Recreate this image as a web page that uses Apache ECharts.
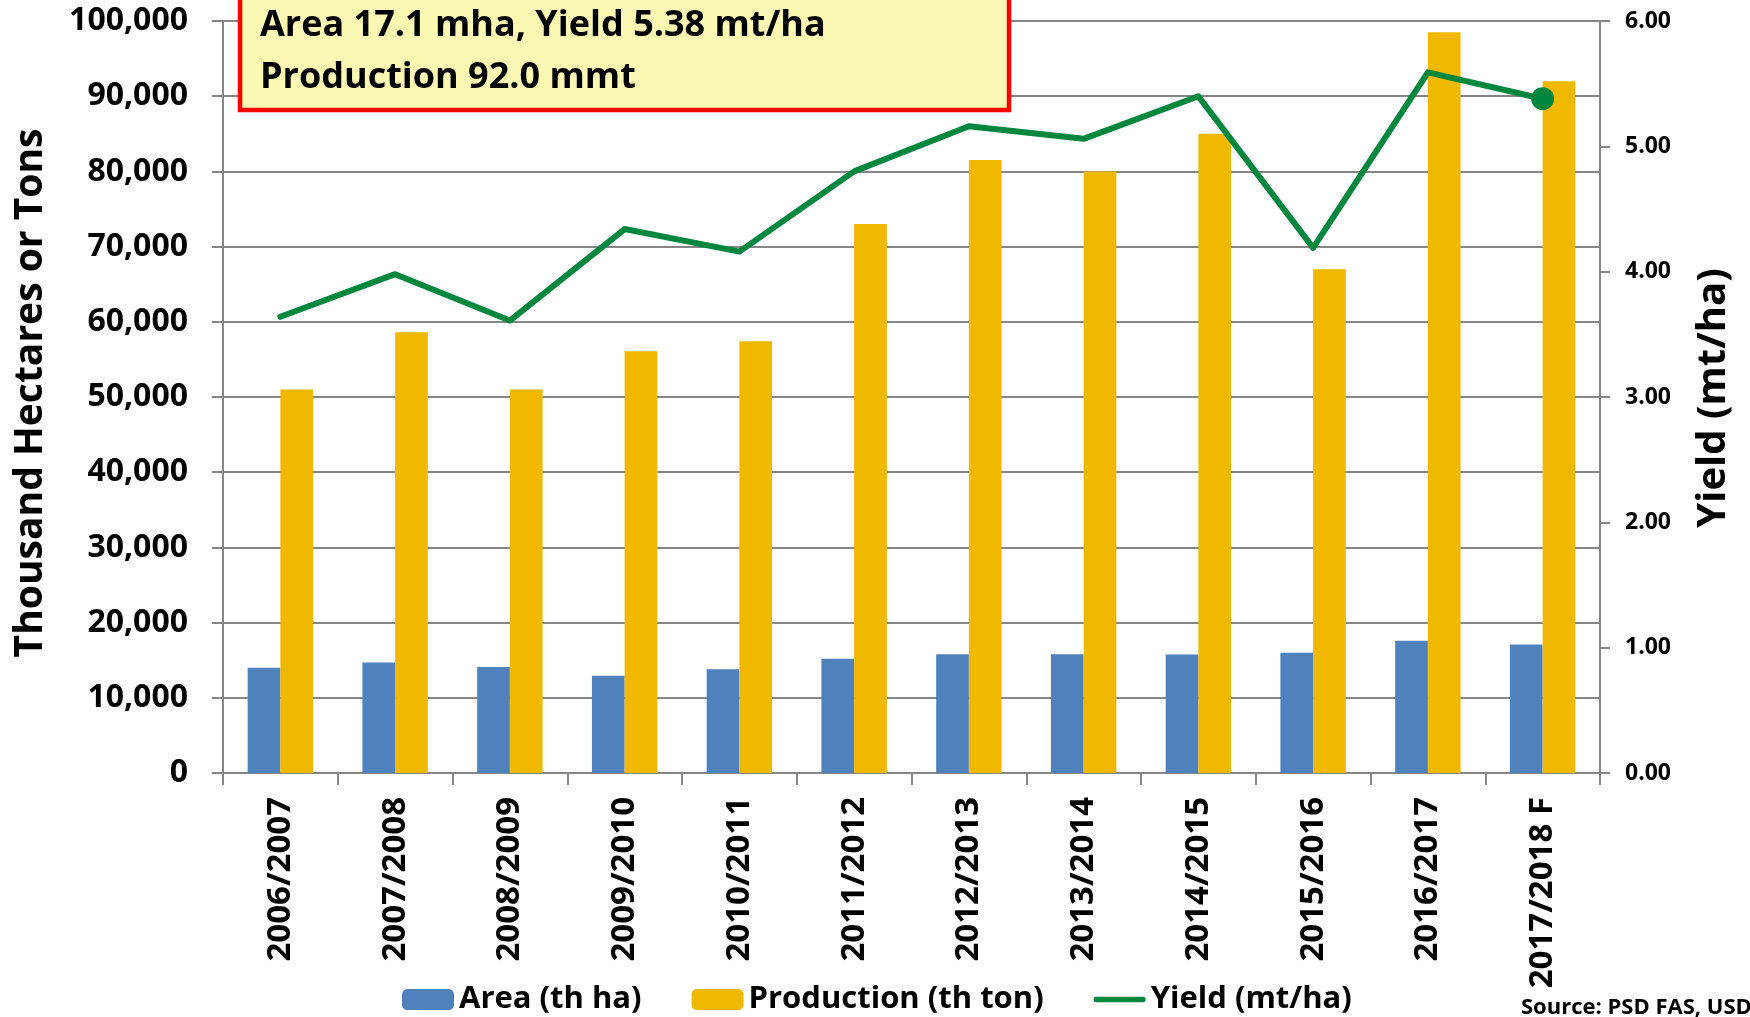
<!DOCTYPE html>
<html>
<head>
<meta charset="utf-8">
<title>Area, Production and Yield</title>
<script src="https://cdn.jsdelivr.net/npm/echarts@6/dist/echarts.min.js"></script>
<style>
  html, body { margin: 0; padding: 0; background: #ffffff; }
  #chart { width: 1750px; height: 1017px; }
</style>
</head>
<body>
<div id="chart"></div>
<script>
// Marketing years
const categories = ['2006/2007', '2007/2008', '2008/2009', '2009/2010', '2010/2011', '2011/2012',
  '2012/2013', '2013/2014', '2014/2015', '2015/2016', '2016/2017', '2017/2018 F'];
// Harvested area, thousand hectares
const areaValues = [14000, 14700, 14100, 12930, 13800, 15200, 15800, 15800, 15750, 16000, 17600, 17100];
// Production, thousand tons
const productionValues = [51000, 58600, 51000, 56100, 57400, 73000, 81500, 80000, 85000, 67000, 98500, 92000];
// Yield, metric tons per hectare
const yieldValues = [3.64, 3.98, 3.61, 4.34, 4.16, 4.80, 5.16, 5.06, 5.40, 4.19, 5.59, 5.38];

const FONT = "'Open Sans', 'DejaVu Sans', sans-serif";
const GRID_GRAY = '#868686';
const YIELD_GREEN = '#00873E';

function thousands(v) {
  return String(v).replace(/\B(?=(\d{3})+(?!\d))/g, ',');
}

// Only the forecast year carries a dot on the yield line
const yieldData = yieldValues.map(function (v, i) {
  if (i === yieldValues.length - 1) {
    return { value: v, symbol: 'circle', symbolSize: 23 };
  }
  return { value: v, symbol: 'none' };
});

const chart = echarts.init(document.getElementById('chart'), null, { renderer: 'canvas' });

chart.setOption({
  animation: false,
  backgroundColor: '#ffffff',
  textStyle: { fontFamily: FONT },
  grid: { left: 223, right: 150, top: 21, bottom: 244, containLabel: false },
  legend: {
    left: 397,
    top: 979,
    itemWidth: 52,
    itemHeight: 21,
    itemGap: 50,
    symbolKeepAspect: true,
    textStyle: { fontFamily: FONT, fontWeight: 'bold', fontSize: 31, color: '#000000' },
    data: [
      { name: 'Area (th ha)' },
      { name: 'Production (th ton)' },
      // plain line swatch for the yield series
      { name: 'Yield (mt/ha)', icon: 'path://M3,0 L55,0 A3,3 0 0 1 55,6 L3,6 A3,3 0 0 1 3,0 Z' }
    ]
  },
  xAxis: {
    type: 'category',
    data: categories,
    boundaryGap: true,
    axisLine: { show: true, lineStyle: { color: GRID_GRAY, width: 2 } },
    axisTick: { show: true, alignWithLabel: false, length: 12, lineStyle: { color: GRID_GRAY, width: 2 } },
    axisLabel: {
      rotate: 90,
      margin: 24,
      interval: 0,
      fontFamily: FONT,
      fontWeight: 'bold',
      fontSize: 33,
      color: '#000000'
    }
  },
  yAxis: [
    {
      type: 'value',
      min: 0,
      max: 100000,
      interval: 10000,
      position: 'left',
      axisLine: { show: true, lineStyle: { color: GRID_GRAY, width: 2 } },
      axisTick: { show: true, inside: false, length: 11, lineStyle: { color: GRID_GRAY, width: 2 } },
      splitLine: { show: true, lineStyle: { color: GRID_GRAY, width: 2 } },
      axisLabel: {
        margin: 35,
        fontFamily: FONT,
        fontWeight: 'bold',
        fontSize: 32,
        color: '#000000',
        formatter: thousands
      }
    },
    {
      type: 'value',
      min: 0,
      max: 6,
      interval: 1,
      position: 'right',
      axisLine: { show: true, lineStyle: { color: GRID_GRAY, width: 2 } },
      axisTick: { show: true, inside: false, length: 10, lineStyle: { color: GRID_GRAY, width: 2 } },
      splitLine: { show: false },
      axisLabel: {
        margin: 25,
        fontFamily: FONT,
        fontWeight: 'bold',
        fontSize: 23,
        color: '#000000',
        formatter: function (v) { return v.toFixed(2); }
      }
    }
  ],
  series: [
    {
      name: 'Area (th ha)',
      type: 'bar',
      data: areaValues,
      barGap: '0%',
      barCategoryGap: '43%',
      itemStyle: { color: '#4F81BD' }
    },
    {
      name: 'Production (th ton)',
      type: 'bar',
      data: productionValues,
      barGap: '0%',
      barCategoryGap: '43%',
      itemStyle: { color: '#F0B900' }
    },
    {
      name: 'Yield (mt/ha)',
      type: 'line',
      yAxisIndex: 1,
      data: yieldData,
      symbol: 'none',
      showSymbol: true,
      lineStyle: { color: YIELD_GREEN, width: 6, cap: 'round', join: 'round' },
      itemStyle: { color: YIELD_GREEN },
      z: 5
    }
  ],
  graphic: [
    // Summary box for the forecast year
    {
      type: 'rect',
      z: 100,
      shape: { x: 240, y: -10, width: 769, height: 120 },
      style: { fill: '#FBF8B4', stroke: '#FF0000', lineWidth: 4.5 }
    },
    {
      type: 'text',
      z: 101,
      x: 260,
      y: 26,
      style: {
        text: 'Area 17.1 mha, Yield 5.38 mt/ha',
        font: "bold 36px 'Open Sans', sans-serif",
        fill: '#000000',
        align: 'left',
        verticalAlign: 'middle'
      }
    },
    {
      type: 'text',
      z: 101,
      x: 260,
      y: 78,
      style: {
        text: 'Production 92.0 mmt',
        font: "bold 36px 'Open Sans', sans-serif",
        fill: '#000000',
        align: 'left',
        verticalAlign: 'middle'
      }
    },
    // Axis titles
    {
      type: 'text',
      x: 31,
      y: 393,
      rotation: Math.PI / 2,
      style: {
        text: 'Thousand Hectares or Tons',
        font: "bold 39px 'Open Sans', sans-serif",
        fill: '#000000',
        align: 'center',
        verticalAlign: 'middle'
      }
    },
    {
      type: 'text',
      x: 1714,
      y: 398,
      rotation: Math.PI / 2,
      style: {
        text: 'Yield (mt/ha)',
        font: "bold 40px 'Open Sans', sans-serif",
        fill: '#000000',
        align: 'center',
        verticalAlign: 'middle'
      }
    },
    // Source note
    {
      type: 'text',
      x: 1521,
      y: 997,
      style: {
        text: 'Source: PSD FAS, USDA',
        font: "bold 22px 'Open Sans', sans-serif",
        fill: '#000000',
        align: 'left',
        verticalAlign: 'top'
      }
    }
  ]
});
</script>
</body>
</html>
